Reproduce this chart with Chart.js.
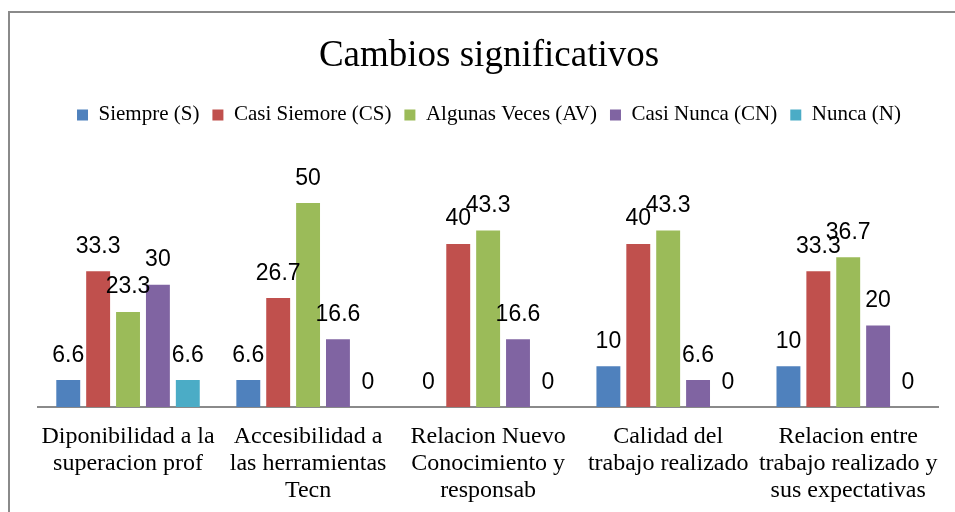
<!DOCTYPE html>
<html>
<head>
<meta charset="utf-8">
<script src="https://cdn.jsdelivr.net/npm/chart.js@4/dist/chart.umd.min.js"></script>
<style>
  html, body { margin: 0; padding: 0; background: #fff; overflow: hidden; }
  #wrap { position: relative; width: 955px; height: 512px; }
  #frame { position: absolute; left: 8px; top: 11px; width: 980px; height: 540px; border: 2px solid #8a8a8a; box-sizing: border-box; pointer-events: none; }
  canvas { position: absolute; left: 0; top: 0; }
</style>
</head>
<body>
<div id="wrap">
  <canvas id="c" width="955" height="512"></canvas>
  <div id="frame"></div>
</div>
<script>
const categories = [
  ["Diponibilidad a la", "superacion prof"],
  ["Accesibilidad a", "las herramientas", "Tecn"],
  ["Relacion Nuevo", "Conocimiento y", "responsab"],
  ["Calidad del", "trabajo realizado"],
  ["Relacion entre", "trabajo realizado y", "sus expectativas"]
];
const seriesNames = ["Siempre (S)", "Casi Siemore (CS)", "Algunas Veces (AV)", "Casi Nunca (CN)", "Nunca (N)"];
const siempre     = [6.6, 6.6, 0, 10, 10];
const casiSiempre = [33.3, 26.7, 40, 40, 33.3];
const algunas     = [23.3, 50, 43.3, 43.3, 36.7];
const casiNunca   = [30, 16.6, 16.6, 6.6, 20];
const nunca       = [6.6, 0, 0, 0, 0];
const colors = ["#4F81BD", "#C0504D", "#9BBB59", "#8064A2", "#4BACC6"];
const seriesValues = [siempre, casiSiempre, algunas, casiNunca, nunca];

const labelPlugin = {
  id: 'valueLabels',
  afterDatasetsDraw(chart) {
    const ctx = chart.ctx;
    ctx.save();
    ctx.font = '23px "Liberation Sans", Arial, sans-serif';
    ctx.fillStyle = '#000';
    ctx.textAlign = 'center';
    ctx.textBaseline = 'alphabetic';
    chart.data.datasets.forEach((ds, di) => {
      const meta = chart.getDatasetMeta(di);
      meta.data.forEach((el, i) => {
        ctx.fillText(String(ds.data[i]), el.x, el.y - 18.5);
      });
    });
    ctx.restore();
  }
};

new Chart(document.getElementById('c'), {
  type: 'bar',
  data: {
    labels: categories,
    datasets: seriesNames.map((n, i) => ({
      label: n,
      data: seriesValues[i],
      backgroundColor: colors[i],
      borderWidth: 0,
      categoryPercentage: 0.83,
      barPercentage: 0.8
    }))
  },
  options: {
    responsive: false,
    animation: false,
    events: [],
    layout: { padding: { left: 38, right: 15, top: 0, bottom: 0 } },
    plugins: {
      tooltip: { enabled: false },
      title: {
        display: true,
        text: 'Cambios significativos',
        color: '#000',
        font: { family: '"Liberation Serif", "Times New Roman", serif', size: 37, weight: 'normal', lineHeight: 1.2 },
        padding: { top: 34, bottom: 13 }
      },
      legend: {
        display: true,
        position: 'top',
        labels: {
          color: '#000',
          boxWidth: 11,
          boxHeight: 11,
          padding: 13,
          font: { family: '"Liberation Serif", "Times New Roman", serif', size: 21 }
        }
      }
    },
    scales: {
      x: {
        grid: { display: false, drawTicks: false },
        border: { display: true, color: '#8a8a8a', width: 2 },
        ticks: {
          color: '#000',
          autoSkip: false,
          maxRotation: 0,
          minRotation: 0,
          padding: 16,
          font: { family: '"Liberation Serif", "Times New Roman", serif', size: 24, lineHeight: 1.13 }
        },
        afterFit(scale) { scale.height = 105; }
      },
      y: {
        display: false,
        min: 0,
        max: 66.6
      }
    }
  },
  plugins: [labelPlugin]
});
</script>
</body>
</html>
